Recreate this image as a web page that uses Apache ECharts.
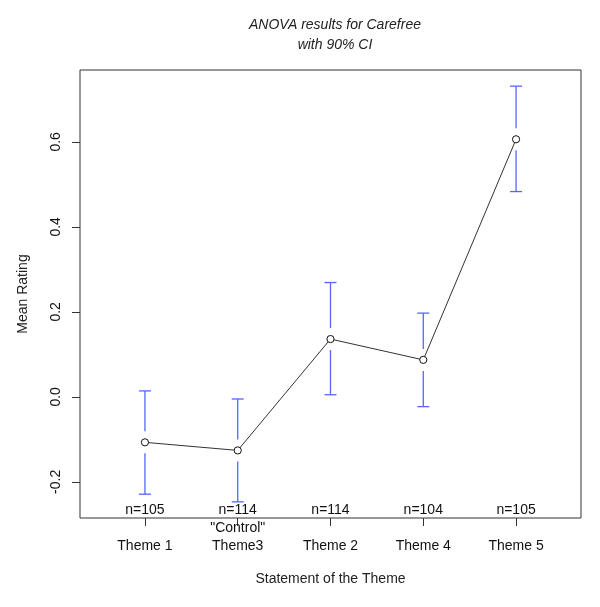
<!DOCTYPE html>
<html>
<head>
<meta charset="utf-8">
<script src="https://cdn.jsdelivr.net/npm/echarts@6/dist/echarts.min.js"></script>
<style>
  html, body { margin: 0; padding: 0; background: #fff; }
  #main { width: 600px; height: 607px; }
</style>
</head>
<body>
<div id="main"></div>
<script>
// data
var themes = ['Theme 1', 'Theme3', 'Theme 2', 'Theme 4', 'Theme 5'];
var themeNotes = ['', '"Control"', '', '', ''];
var means = [-0.107, -0.126, 0.136, 0.087, 0.606];
var ciLow = [-0.229, -0.247, 0.005, -0.023, 0.483];
var ciHigh = [0.014, -0.005, 0.269, 0.197, 0.731];
var counts = [105, 114, 114, 104, 105];
var yTicks = [-0.2, 0.0, 0.2, 0.4, 0.6];
var xTicks = [1, 2, 3, 4, 5];

var font = 'Liberation Sans, Arial, sans-serif';

var myChart = echarts.init(document.getElementById('main'), null, { renderer: 'canvas' });

var meanData = means.map(function (m, i) { return [i + 1, m]; });
var barData = means.map(function (m, i) { return [i + 1, ciLow[i], ciHigh[i], m]; });
var nData = counts.map(function (n, i) { return [i + 1, n]; });

option = {
    backgroundColor: '#fff',
    animation: false,
    title: {
        text: 'ANOVA results for Carefree\nwith 90% CI',
        left: 330,
        textAlign: 'center',
        top: 10,
        textStyle: {
            fontFamily: font,
            fontStyle: 'italic',
            fontWeight: 'normal',
            fontSize: 14,
            lineHeight: 20,
            color: '#222'
        }
    },
    grid: {
        left: 80,
        right: 19,
        top: 70,
        bottom: 89,
        show: true,
        borderColor: '#333',
        borderWidth: 1,
        backgroundColor: 'transparent'
    },
    xAxis: {
        type: 'value',
        min: 0.3,
        max: 5.7,
        name: 'Statement of the Theme',
        nameLocation: 'middle',
        nameGap: 54,
        nameTextStyle: { fontFamily: font, fontSize: 14, color: '#222' },
        axisLine: { show: false, onZero: false },
        splitLine: { show: false },
        axisTick: {
            show: true,
            customValues: xTicks,
            length: 8,
            lineStyle: { color: '#333' }
        },
        axisLabel: {
            customValues: xTicks,
            margin: 1,
            fontFamily: font,
            fontSize: 14,
            lineHeight: 18,
            color: '#111',
            formatter: function (v) {
                var i = Math.round(v) - 1;
                return themeNotes[i] + '\n' + themes[i];
            }
        }
    },
    yAxis: {
        type: 'value',
        min: -0.285,
        max: 0.769,
        name: 'Mean Rating',
        nameLocation: 'middle',
        nameGap: 50,
        nameTextStyle: { fontFamily: font, fontSize: 14, color: '#222' },
        axisLine: { show: false, onZero: false },
        splitLine: { show: false },
        axisTick: {
            show: true,
            customValues: yTicks,
            length: 8,
            lineStyle: { color: '#333' }
        },
        axisLabel: {
            customValues: yTicks,
            rotate: 90,
            margin: 17,
            fontFamily: font,
            fontSize: 14,
            color: '#111',
            formatter: function (v) { return v.toFixed(1); }
        }
    },
    series: [
        {
            // confidence intervals, with a gap round each mean
            type: 'custom',
            data: barData,
            z: 2,
            renderItem: function (params, api) {
                var x = api.value(0);
                var lo = api.coord([x, api.value(1)]);
                var hi = api.coord([x, api.value(2)]);
                var mid = api.coord([x, api.value(3)]);
                var gap = 11, cap = 6;
                var style = { stroke: '#5566ff', lineWidth: 1.3 };
                return {
                    type: 'group',
                    children: [
                        { type: 'line', shape: { x1: hi[0], y1: hi[1], x2: hi[0], y2: mid[1] - gap }, style: style },
                        { type: 'line', shape: { x1: lo[0], y1: mid[1] + gap, x2: lo[0], y2: lo[1] }, style: style },
                        { type: 'line', shape: { x1: hi[0] - cap, y1: hi[1], x2: hi[0] + cap, y2: hi[1] }, style: style },
                        { type: 'line', shape: { x1: lo[0] - cap, y1: lo[1], x2: lo[0] + cap, y2: lo[1] }, style: style }
                    ]
                };
            }
        },
        {
            type: 'line',
            data: meanData,
            z: 3,
            symbol: 'none',
            lineStyle: { color: '#333', width: 1 }
        },
        {
            // open circles at the means
            type: 'custom',
            data: meanData,
            z: 4,
            renderItem: function (params, api) {
                var p = api.coord([api.value(0), api.value(1)]);
                return {
                    type: 'circle',
                    shape: { cx: p[0], cy: p[1], r: 3.6 },
                    style: { fill: '#fff', stroke: '#111', lineWidth: 1 }
                };
            }
        },
        {
            // group sizes along the bottom of the plot box
            type: 'custom',
            data: nData,
            z: 4,
            renderItem: function (params, api) {
                var p = api.coord([api.value(0), -0.285]);
                return {
                    type: 'text',
                    x: p[0],
                    y: p[1] - 8,
                    style: {
                        text: 'n=' + api.value(1),
                        fontFamily: font,
                        fontSize: 14,
                        fill: '#111',
                        align: 'center',
                        verticalAlign: 'middle'
                    }
                };
            }
        }
    ]
};

myChart.setOption(option);
</script>
</body>
</html>
